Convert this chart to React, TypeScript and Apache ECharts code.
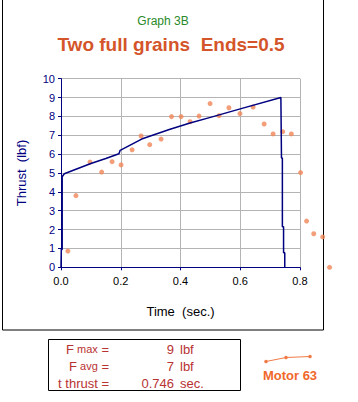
import React, { useEffect, useRef } from "react";
import * as echarts from "echarts";

const xTicks = [0, 0.2, 0.4, 0.6, 0.8];
const thrustCurve: [number, number][] = [
  [0, 0], [0.001, 0.95], [0.004, 0.95], [0.004, 4.8], [0.011, 4.96],
  [0.05, 5.2], [0.1, 5.5], [0.15, 5.77], [0.194, 6.02], [0.198, 6.2],
  [0.27, 6.8], [0.365, 7.32], [0.432, 7.65], [0.5, 7.95], [0.6, 8.4],
  [0.736, 9.0], [0.738, 5.8], [0.741, 5.8], [0.741, 2.15], [0.745, 2.15],
  [0.745, 0.77], [0.749, 0.77], [0.749, 0],
];
const measured: [number, number][] = [
  [0.023, 0.86], [0.05, 3.8], [0.097, 5.58], [0.136, 5.05], [0.171, 5.6],
  [0.201, 5.43], [0.238, 6.23], [0.268, 6.96], [0.297, 6.5], [0.335, 6.8],
  [0.37, 7.99], [0.402, 7.99], [0.432, 7.72], [0.462, 8.02], [0.499, 8.68],
  [0.529, 8.04], [0.562, 8.46], [0.599, 8.15], [0.643, 8.5], [0.68, 7.6],
  [0.71, 7.07], [0.742, 7.19], [0.771, 7.07], [0.802, 5.02], [0.822, 2.45],
  [0.846, 1.78], [0.876, 1.61], [0.899, 0],
];
const statLabels = ["max", "avg", "thrust"];
const statPrefix = ["F", "F", "t"];
const statValues = ["9", "7", "0.746"];
const statUnits = ["lbf", "lbf", "sec."];

export default function App() {
  const ref = useRef<HTMLDivElement>(null);
  useEffect(() => {
    const chart = echarts.init(ref.current!, null, { renderer: "svg" });
    const font = "'Liberation Sans', Arial, sans-serif";
    const statColor = "#b83232";
    const rowY = [349, 366, 383];
    const statTexts: any[] = [];
    statLabels.forEach((lab, i) => {
      statTexts.push({
        type: "text",
        x: 109,
        y: rowY[i],
        style: {
          text: `{a|${statPrefix[i]}}{b|${statPrefix[i] === "t" ? " " : " "}${lab}}{a| =}`,
          align: "right",
          verticalAlign: "middle",
          fill: statColor,
          rich: {
            a: { fontSize: 13, fontFamily: font, fill: statColor },
            b: { fontSize: statPrefix[i] === "t" ? 13 : 11, fontFamily: font, fill: statColor },
          },
        },
      });
      statTexts.push({
        type: "text",
        x: 174,
        y: rowY[i],
        style: {
          text: statValues[i],
          align: "right",
          verticalAlign: "middle",
          fill: statColor,
          font: `13px ${font}`,
        },
      });
      statTexts.push({
        type: "text",
        x: 180,
        y: rowY[i],
        style: {
          text: statUnits[i],
          align: "left",
          verticalAlign: "middle",
          fill: statColor,
          font: `13px ${font}`,
        },
      });
    });
    chart.setOption({
      animation: false,
      backgroundColor: "#ffffff",
      grid: { left: 61, right: 58, top: 78.7, bottom: 134.7 },
      xAxis: {
        type: "value",
        min: 0,
        max: 0.8,
        interval: 0.2,
        name: "Time  (sec.)",
        nameLocation: "middle",
        nameGap: 38,
        nameTextStyle: { color: "#000000", fontSize: 13, fontFamily: font },
        axisLine: { show: true, onZero: false, lineStyle: { color: "#000080", width: 1 } },
        axisTick: { show: true, length: 3, lineStyle: { color: "#000080" } },
        axisLabel: {
          color: "#000000",
          fontSize: 11,
          fontFamily: font,
          margin: 8,
          formatter: (v: number) => v.toFixed(1),
        },
        splitLine: { show: true, lineStyle: { color: "#b4b4b4", width: 1 } },
      },
      yAxis: {
        type: "value",
        min: 0,
        max: 10,
        interval: 1,
        name: "Thrust  (lbf)",
        nameLocation: "middle",
        nameGap: 33,
        nameTextStyle: { color: "#000080", fontSize: 13, fontFamily: font },
        axisLine: { show: true, onZero: false, lineStyle: { color: "#000080", width: 1 } },
        axisTick: { show: true, length: 3, lineStyle: { color: "#000080" } },
        axisLabel: { color: "#000080", fontSize: 11, fontFamily: font, margin: 6 },
        splitLine: { show: true, lineStyle: { color: "#b4b4b4", width: 1 } },
      },
      series: [
        {
          type: "scatter",
          data: measured,
          symbol: "circle",
          symbolSize: 5,
          clip: false,
          itemStyle: { color: "#f08656" },
          z: 2,
        },
        {
          type: "line",
          data: thrustCurve,
          showSymbol: false,
          symbol: "none",
          lineStyle: { color: "#000080", width: 1.5 },
          z: 3,
        },
      ],
      graphic: [
        {
          type: "rect",
          shape: { x: 2.5, y: -3, width: 321, height: 333 },
          style: { fill: "none", stroke: "#000000", lineWidth: 1 },
          silent: true,
        },
        {
          type: "text",
          x: 163,
          y: 21,
          style: {
            text: "Graph 3B",
            align: "center",
            verticalAlign: "middle",
            fill: "#2a8a2a",
            font: `12px ${font}`,
          },
        },
        {
          type: "text",
          x: 171,
          y: 44,
          style: {
            text: "Two full grains  Ends=0.5",
            align: "center",
            verticalAlign: "middle",
            fill: "#d4552a",
            font: `bold 19px ${font}`,
          },
        },
        {
          type: "rect",
          shape: { x: 48.5, y: 339.5, width: 192, height: 51 },
          style: { fill: "#ffffff", stroke: "#000000", lineWidth: 1 },
        },
        ...statTexts,
        {
          type: "polyline",
          shape: { points: [[266, 361.5], [286, 357.5], [310, 356.5]] },
          style: { stroke: "#f07a45", lineWidth: 1, fill: "none" },
        },
        { type: "circle", shape: { cx: 266, cy: 361.5, r: 1.8 }, style: { fill: "#f07a45" } },
        { type: "circle", shape: { cx: 286, cy: 357.5, r: 1.8 }, style: { fill: "#f07a45" } },
        { type: "circle", shape: { cx: 310, cy: 356.5, r: 1.8 }, style: { fill: "#f07a45" } },
        {
          type: "text",
          x: 290,
          y: 375,
          style: {
            text: "Motor 63",
            align: "center",
            verticalAlign: "middle",
            fill: "#f0682a",
            font: `bold 13px ${font}`,
          },
        },
      ],
    });
    return () => chart.dispose();
  }, []);
  return (
    <div
      ref={ref}
      style={{ width: 358, height: 402, position: "absolute", left: 0, top: 0 }}
    />
  );
}
